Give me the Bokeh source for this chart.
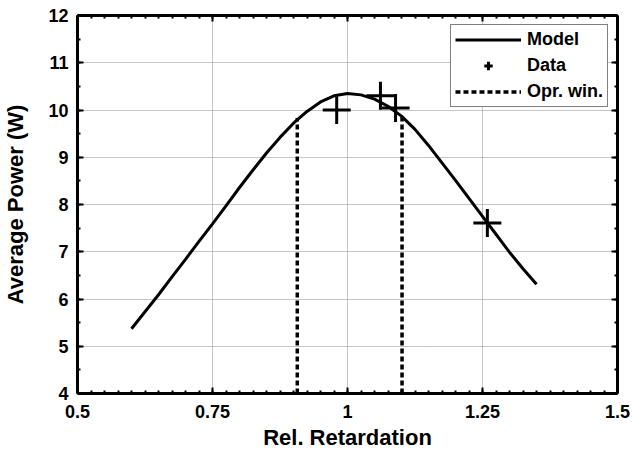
from bokeh.plotting import figure
from bokeh.models import (LinearAxis, SingleIntervalTicker, Legend, LegendItem,
                          Range1d, CustomJSTickFormatter)
from bokeh.embed import file_html
from bokeh.resources import INLINE

# ---------------- data ----------------
model_x = [0.600, 0.625, 0.650, 0.675, 0.700, 0.725, 0.750, 0.775, 0.800, 0.825,
           0.850, 0.875, 0.900, 0.925, 0.950, 0.975, 1.000, 1.025, 1.050, 1.075,
           1.100, 1.125, 1.150, 1.175, 1.200, 1.225, 1.250, 1.275, 1.300, 1.325, 1.350]
model_y = [5.37, 5.73, 6.09, 6.47, 6.84, 7.22, 7.59, 7.97, 8.36, 8.73,
           9.09, 9.42, 9.72, 9.97, 10.17, 10.30, 10.35, 10.32, 10.23, 10.08,
           9.87, 9.59, 9.25, 8.88, 8.51, 8.13, 7.75, 7.37, 6.99, 6.64, 6.31]

data_x = [0.980, 1.061, 1.089, 1.259]
data_y = [10.00, 10.30, 10.04, 7.61]

window_x = [0.907, 1.101]
window_bottom = [4.0, 4.0]
window_top = [9.83, 9.87]

x_ticks = [0.5, 0.75, 1.0, 1.25, 1.5]
x_tick_labels = ["0.5", "0.75", "1", "1.25", "1.5"]
y_ticks = [4, 5, 6, 7, 8, 9, 10, 11, 12]
y_tick_labels = ["4", "5", "6", "7", "8", "9", "10", "11", "12"]

x_label = "Rel. Retardation"
y_label = "Average Power (W)"
series_names = ["Model", "Data", "Opr. win."]

FONT = "Liberation Sans"

# ---------------- figure ----------------
p = figure(width=632, height=452, output_backend="svg", toolbar_location=None,
           x_range=Range1d(x_ticks[0], x_ticks[-1]),
           y_range=Range1d(y_ticks[0], y_ticks[-1]),
           min_border_left=77, min_border_right=15, min_border_top=15,
           min_border_bottom=59)
p.outline_line_color = None
p.background_fill_color = "white"
p.border_fill_color = "white"

x_ticker = SingleIntervalTicker(interval=0.25, num_minor_ticks=10)
y_ticker = SingleIntervalTicker(interval=1, num_minor_ticks=2)

fmt_code = """
let i = -1;
for (let k = 0; k < tvals.length; k++) {
  if (Math.abs(tvals[k] - tick) < 1e-9) { i = k; break; }
}
return i >= 0 ? tlabels[i] : "";
"""
x_fmt = CustomJSTickFormatter(args=dict(tvals=x_ticks, tlabels=x_tick_labels), code=fmt_code)
y_fmt = CustomJSTickFormatter(args=dict(tvals=y_ticks, tlabels=y_tick_labels), code=fmt_code)
blank_fmt = CustomJSTickFormatter(code="return '';")


def style_axis(ax, ticker, fmt):
    ax.ticker = ticker
    ax.formatter = fmt
    ax.axis_line_width = 3
    ax.axis_line_color = "black"
    ax.major_tick_in = 6
    ax.major_tick_out = 0
    ax.minor_tick_in = 3
    ax.minor_tick_out = 0
    ax.major_tick_line_width = 2
    ax.minor_tick_line_width = 2
    ax.major_tick_line_color = "black"
    ax.minor_tick_line_color = "black"
    ax.major_label_text_font = FONT
    ax.major_label_text_font_style = "bold"
    ax.major_label_text_font_size = "18px"
    ax.major_label_text_color = "black"
    ax.axis_label_text_font = FONT
    ax.axis_label_text_font_style = "bold"
    ax.axis_label_text_font_size = "22px"
    ax.axis_label_text_color = "black"


xa = p.xaxis[0]
ya = p.yaxis[0]
style_axis(xa, x_ticker, x_fmt)
style_axis(ya, y_ticker, y_fmt)
xa.axis_label = x_label
ya.axis_label = y_label
xa.major_label_standoff = 11
xa.axis_label_standoff = 4
ya.major_label_standoff = 9
ya.axis_label_standoff = 17

top_ax = LinearAxis()
right_ax = LinearAxis()
style_axis(top_ax, x_ticker, blank_fmt)
style_axis(right_ax, y_ticker, blank_fmt)
top_ax.major_label_standoff = 0
right_ax.major_label_standoff = 0
p.add_layout(top_ax, "above")
p.add_layout(right_ax, "right")

for g, t in ((p.xgrid[0], x_ticker), (p.ygrid[0], y_ticker)):
    g.ticker = t
    g.grid_line_color = "#8c8c8c"
    g.grid_line_width = 1
    g.grid_line_dash = "1 1"

# ---------------- glyphs ----------------
r_model = p.line(model_x, model_y, line_color="black", line_width=3)
r_win = p.segment(x0=window_x, y0=window_bottom, x1=window_x, y1=window_top,
                  line_color="black", line_width=3.5, line_dash="5 3")
r_data = p.scatter(data_x, data_y, marker="cross", size=28,
                   line_color="black", line_width=3)

legend = Legend(items=[LegendItem(label=series_names[0], renderers=[r_model]),
                       LegendItem(label=series_names[1], renderers=[r_data]),
                       LegendItem(label=series_names[2], renderers=[r_win])],
                location="top_right")
legend.margin = 9
legend.padding = 4
legend.spacing = 5
legend.glyph_width = 66
legend.glyph_height = 21
legend.label_height = 21
legend.label_standoff = 6
legend.label_text_font = FONT
legend.label_text_font_style = "bold"
legend.label_text_font_size = "18px"
legend.label_text_color = "black"
legend.border_line_color = "black"
legend.border_line_width = 1
legend.background_fill_color = "white"
legend.background_fill_alpha = 1
p.add_layout(legend)

open("out.html", "w").write(file_html(p, INLINE))
